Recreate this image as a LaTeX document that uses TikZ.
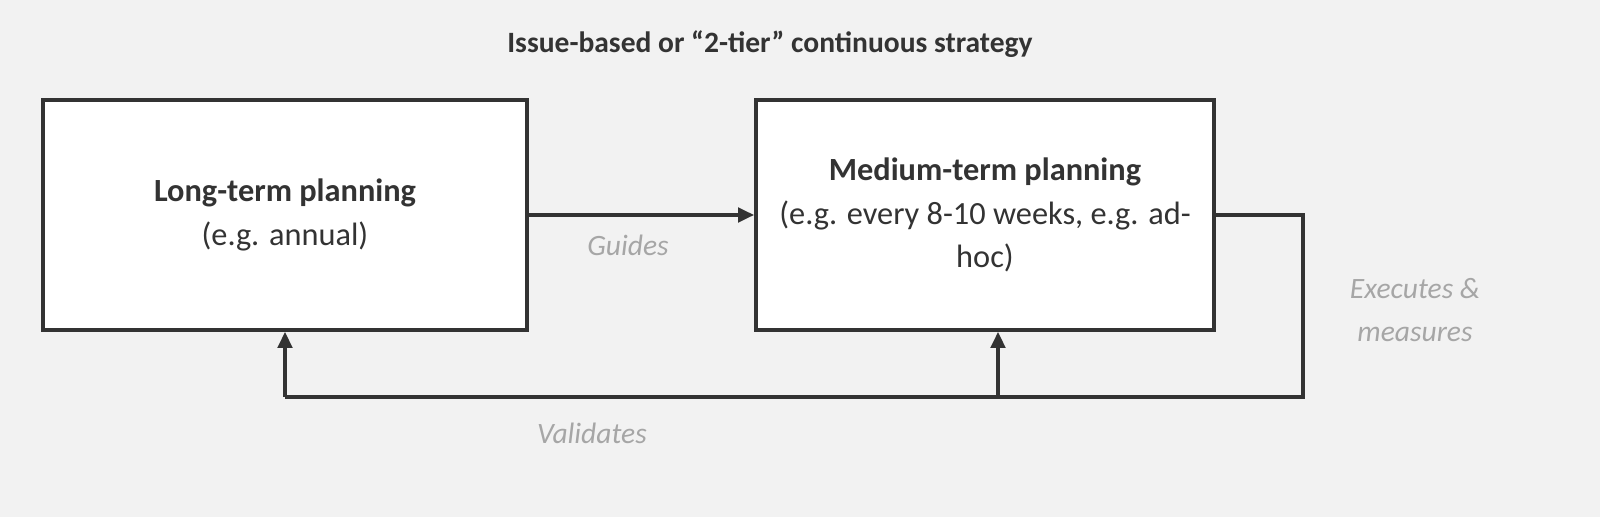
\documentclass[tikz,border=0pt]{standalone}
\usepackage{fontspec}
\setmainfont{Carlito}
\usetikzlibrary{arrows.meta,positioning}
\definecolor{boxgray}{HTML}{333333}
\definecolor{labelgray}{HTML}{A6A6A6}
\definecolor{backgray}{HTML}{F2F2F2}
\tikzset{
	% ------- custom
	block/.style={
		draw=boxgray, fill=white, line width=2.6pt,
		minimum width=12.1cm, minimum height=5.75cm,
		align=center, text=boxgray,
		font=\fontsize{23}{31}\selectfont,
	},
	link/.style={
		draw=boxgray, line width=2.6pt,
		-{Triangle[length=4mm,width=3.6mm]},
	},
	tag/.style={
		text=labelgray, align=center,
		font=\fontsize{21}{31}\selectfont\itshape,
	},
}
\begin{document}
\begin{tikzpicture}[x=0.025cm,y=-0.025cm]

% background %{{{1

	\useasboundingbox (0,0) rectangle (1600,517);
	\fill[backgray] (0,0) rectangle (1600,517);

% nodes %{{{1

	\node[font=\fontsize{21}{26}\selectfont\bfseries, text=boxgray] (title) at (770,44)
		{Issue-based or “2-tier” continuous strategy};

	\node[block] (long) at (285,215)
		{\textbf{Long-term planning}\\(e.g. annual)};
	\node[block, minimum width=11.45cm] (medium) at (985,215)
		{\textbf{Medium-term planning}\\(e.g. every 8-10 weeks, e.g. ad-\\hoc)};

	\node[tag] (guides) at (628,245) {Guides};
	\node[tag] (executes) at (1415,310) {Executes \&\\measures};
	\node[tag] (validates) at (592,433) {Validates};

% coordinates %{{{1

	\coordinate (turn) at (1303,215);
	\coordinate (corner) at (1303,397);
	\coordinate (split) at (998,397);
	\coordinate (back) at (285,397);

% connectors %{{{1

	\draw[link] (long.east) -- (medium.west |- long.east);
	\draw[draw=boxgray, line width=2.6pt, line join=miter] (medium.east) -- (turn) -- (corner) -- (back);
	\draw[link] (back) -- (long.south);
	\draw[link] (split) -- (split |- medium.south);

\end{tikzpicture}
\end{document}
